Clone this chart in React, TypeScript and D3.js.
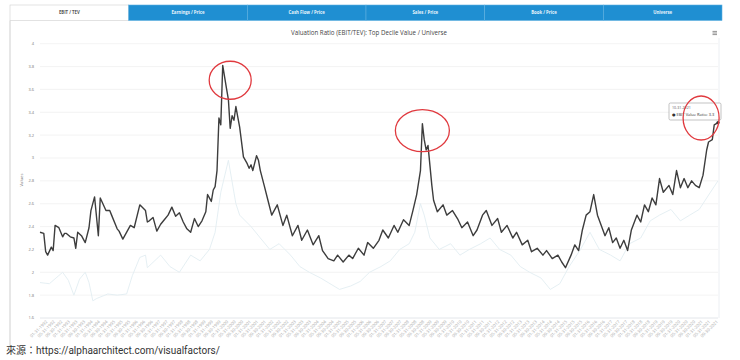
import React from "react";
import * as d3 from "d3";

// ---- data ----
const tabs = ["EBIT / TEV", "Earnings / Price", "Cash Flow / Price", "Sales / Price", "Book / Price", "Universe"];
const title = "Valuation Ratio (EBIT/TEV): Top Decile Value / Universe";
const yTickValues = [1.6, 1.8, 2, 2.2, 2.4, 2.6, 2.8, 3, 3.2, 3.4, 3.6, 3.8, 4];
const startMonth = "1991-10";
const endMonth = "2021-10";

const topDecile: [string, number][] = [
  ["1991-10", 2.35], ["1991-12", 2.34], ["1992-01", 2.18], ["1992-02", 2.15], ["1992-04", 2.22],
  ["1992-05", 2.19], ["1992-06", 2.41], ["1992-08", 2.39], ["1992-10", 2.31], ["1992-11", 2.34],
  ["1992-12", 2.34], ["1993-02", 2.31], ["1993-04", 2.30], ["1993-05", 2.21], ["1993-06", 2.35],
  ["1993-08", 2.32], ["1993-10", 2.26], ["1993-12", 2.39], ["1994-01", 2.54], ["1994-03", 2.66],
  ["1994-05", 2.32], ["1994-06", 2.65], ["1994-09", 2.54], ["1994-11", 2.54], ["1994-12", 2.50],
  ["1995-03", 2.38], ["1995-04", 2.36], ["1995-06", 2.29], ["1995-10", 2.41], ["1995-12", 2.39],
  ["1996-03", 2.59], ["1996-06", 2.54], ["1996-07", 2.44], ["1996-08", 2.45], ["1996-10", 2.48],
  ["1996-12", 2.36], ["1997-02", 2.42], ["1997-04", 2.46], ["1997-06", 2.50], ["1997-08", 2.57],
  ["1997-10", 2.49], ["1997-12", 2.52], ["1998-02", 2.44], ["1998-04", 2.38], ["1998-06", 2.35],
  ["1998-08", 2.47], ["1998-10", 2.40], ["1998-12", 2.45], ["1999-02", 2.53], ["1999-03", 2.68],
  ["1999-05", 2.62], ["1999-06", 2.72], ["1999-07", 2.75], ["1999-08", 2.89], ["1999-09", 3.35],
  ["1999-10", 3.29], ["1999-11", 3.81], ["2000-01", 3.61], ["2000-02", 3.51], ["2000-03", 3.26],
  ["2000-04", 3.37], ["2000-05", 3.33], ["2000-06", 3.45], ["2000-07", 3.36], ["2000-08", 3.27],
  ["2000-10", 3.01], ["2000-12", 2.95], ["2001-01", 2.91], ["2001-02", 2.94], ["2001-03", 2.89],
  ["2001-05", 3.02], ["2001-06", 2.98], ["2001-07", 2.89], ["2001-09", 2.76], ["2001-11", 2.63],
  ["2002-01", 2.50], ["2002-04", 2.59], ["2002-07", 2.41], ["2002-09", 2.50], ["2002-12", 2.32],
  ["2003-03", 2.41], ["2003-05", 2.28], ["2003-08", 2.37], ["2003-11", 2.24], ["2004-02", 2.32],
  ["2004-04", 2.19], ["2004-07", 2.12], ["2004-10", 2.10], ["2004-12", 2.15], ["2005-03", 2.09],
  ["2005-06", 2.15], ["2005-08", 2.12], ["2005-11", 2.21], ["2006-02", 2.15], ["2006-04", 2.26],
  ["2006-07", 2.21], ["2006-10", 2.28], ["2006-12", 2.37], ["2007-03", 2.30], ["2007-06", 2.41],
  ["2007-08", 2.35], ["2007-11", 2.46], ["2008-02", 2.41], ["2008-04", 2.54], ["2008-06", 2.68],
  ["2008-08", 2.89], ["2008-09", 3.30], ["2008-10", 3.16], ["2008-11", 3.07], ["2008-12", 3.11],
  ["2009-02", 2.76], ["2009-03", 2.63], ["2009-05", 2.53], ["2009-08", 2.59], ["2009-10", 2.50],
  ["2010-01", 2.54], ["2010-04", 2.46], ["2010-06", 2.39], ["2010-09", 2.44], ["2010-12", 2.32],
  ["2011-02", 2.37], ["2011-05", 2.50], ["2011-07", 2.54], ["2011-10", 2.41], ["2012-01", 2.47],
  ["2012-03", 2.35], ["2012-06", 2.41], ["2012-09", 2.30], ["2012-11", 2.35], ["2013-02", 2.24],
  ["2013-05", 2.28], ["2013-07", 2.18], ["2013-10", 2.21], ["2014-01", 2.15], ["2014-03", 2.19],
  ["2014-06", 2.12], ["2014-09", 2.15], ["2014-11", 2.09], ["2015-01", 2.04], ["2015-04", 2.15],
  ["2015-06", 2.24], ["2015-08", 2.19], ["2015-10", 2.37], ["2015-12", 2.50], ["2016-02", 2.53],
  ["2016-04", 2.68], ["2016-06", 2.50], ["2016-08", 2.41], ["2016-10", 2.32], ["2016-12", 2.39],
  ["2017-02", 2.26], ["2017-04", 2.30], ["2017-06", 2.21], ["2017-08", 2.28], ["2017-10", 2.19],
  ["2017-12", 2.37], ["2018-03", 2.50], ["2018-05", 2.44], ["2018-07", 2.59], ["2018-09", 2.53],
  ["2018-11", 2.65], ["2019-01", 2.59], ["2019-03", 2.82], ["2019-05", 2.70], ["2019-08", 2.76],
  ["2019-10", 2.68], ["2019-12", 2.89], ["2020-02", 2.74], ["2020-04", 2.82], ["2020-06", 2.74],
  ["2020-08", 2.80], ["2020-10", 2.76], ["2020-12", 2.74], ["2021-02", 2.85], ["2021-04", 3.07],
  ["2021-05", 3.14], ["2021-07", 3.16], ["2021-08", 3.29], ["2021-10", 3.31],
];

const universe: [string, number][] = [
  ["1991-10", 1.91], ["1992-03", 1.90], ["1992-10", 2.00], ["1993-01", 1.93], ["1993-04", 1.80],
  ["1993-07", 1.94], ["1993-10", 2.00], ["1993-12", 1.91], ["1994-02", 1.75], ["1994-04", 1.77],
  ["1994-10", 1.81], ["1995-03", 1.80], ["1995-08", 1.81], ["1995-11", 1.97], ["1996-03", 2.13],
  ["1996-06", 2.15], ["1996-07", 2.04], ["1997-02", 2.15], ["1997-07", 2.05], ["1997-12", 2.00],
  ["1998-06", 2.15], ["1998-11", 2.10], ["1999-04", 2.20], ["1999-07", 2.35], ["1999-10", 2.70],
  ["2000-02", 2.98], ["2000-06", 2.60], ["2000-08", 2.50], ["2001-02", 2.40], ["2001-07", 2.30],
  ["2001-12", 2.20], ["2002-05", 2.25], ["2002-11", 2.15], ["2003-04", 2.05], ["2003-09", 2.00],
  ["2004-03", 1.95], ["2004-08", 1.90], ["2005-01", 1.85], ["2005-07", 1.88], ["2005-12", 1.92],
  ["2006-05", 2.00], ["2006-11", 2.05], ["2007-04", 2.10], ["2007-09", 2.20], ["2008-02", 2.25],
  ["2008-05", 2.35], ["2008-08", 2.60], ["2008-10", 2.50], ["2009-01", 2.30], ["2009-06", 2.20],
  ["2009-12", 2.25], ["2010-05", 2.15], ["2010-10", 2.20], ["2011-04", 2.25], ["2011-09", 2.30],
  ["2012-02", 2.20], ["2012-08", 2.15], ["2013-01", 2.05], ["2013-06", 2.00], ["2013-12", 1.95],
  ["2014-05", 1.85], ["2014-10", 1.90], ["2015-03", 2.05], ["2015-09", 2.20], ["2016-02", 2.35],
  ["2016-07", 2.20], ["2017-01", 2.15], ["2017-06", 2.10], ["2017-11", 2.25], ["2018-05", 2.30],
  ["2018-10", 2.45], ["2019-03", 2.50], ["2019-09", 2.55], ["2020-02", 2.45], ["2020-07", 2.50],
  ["2020-12", 2.55], ["2021-06", 2.70], ["2021-10", 2.80],
];

const tooltipDate = "10-31-2021";
const tooltipLabel = "EBIT Value Ratio: 3.3";
const sourceText = "來源：https://alphaarchitect.com/visualfactors/";

// highlighted peaks (dates + values) for the red annotation circles
const highlights: [string, number][] = [["2000-03", 3.68], ["2008-09", 3.24], ["2021-01", 3.35]];

export default function App() {
  const W = 740, H = 360;
  const parse = d3.timeParse("%Y-%m");
  const x = d3.scaleTime().domain([parse(startMonth)!, parse(endMonth)!]).range([40, 718]);
  const y = d3.scaleLinear().domain([1.6, 4]).range([318, 43.7]);
  const line = d3.line<[string, number]>().x((d) => x(parse(d[0])!)).y((d) => y(d[1]));
  const tabScale = d3.scaleBand<string>().domain(tabs).range([10, 722]);
  const xTicks = x.ticks(d3.timeMonth.every(4)!);
  const fmt = d3.timeFormat("%m-%d-%Y");
  const monthEnd = (d: Date) => d3.timeDay.offset(d3.timeMonth.offset(d, 1), -1);
  const last = topDecile[topDecile.length - 1];
  const font = "'Open Sans', 'DejaVu Sans', sans-serif";
  const ellipseR: [number, number][] = [[21, 19], [27, 21], [18, 22]];

  return (
    <svg width={W} height={H} style={{ position: "absolute", left: 0, top: 0, background: "#fff" }} fontFamily={font}>
      <rect x={0} y={0} width={W} height={H} fill="#fff" />
      {/* tabs */}
      {tabs.map((t, i) => {
        const x0 = tabScale(t)!;
        const w = tabScale.bandwidth();
        const active = i === 0;
        return (
          <g key={t}>
            <rect x={x0} y={5} width={w} height={15.5} fill={active ? "#fff" : "#1f8fd2"}
              stroke={active ? "#cfcfcf" : "#5fb0e0"} strokeWidth={0.6} />
            <text x={x0 + w / 2} y={14.3} textAnchor="middle" fontSize={4.3} fontWeight="bold"
              fill={active ? "#555" : "#e8f4fb"}>{t}</text>
          </g>
        );
      })}
      {/* frame */}
      <line x1={10} x2={10} y1={20.5} y2={346} stroke="#cfcfcf" strokeWidth={1} />
      <line x1={719} x2={719} y1={38} y2={318} stroke="#eceff3" strokeWidth={1} />
      {/* title */}
      <text x={369} y={35} textAnchor="middle" fontSize={6.2} fill="#444">{title}</text>
      {/* menu icon */}
      {[31.4, 33, 34.6].map((yy) => (
        <line key={yy} x1={712.5} x2={717} y1={yy} y2={yy} stroke="#777" strokeWidth={0.8} />
      ))}
      {/* grid and y axis */}
      {yTickValues.map((v) => (
        <g key={v}>
          <line x1={40} x2={718} y1={y(v)} y2={y(v)} stroke={v === 1.6 ? "#e3e6ea" : "#f0f0f0"} strokeWidth={v === 1.6 ? 1 : 0.8} />
          <text x={34} y={y(v) + 1.4} textAnchor="end" fontSize={4} fill="#777">{String(v)}</text>
        </g>
      ))}
      <text transform={`translate(23,180) rotate(-90)`} textAnchor="middle" fontSize={4.2} fill="#777">Values</text>
      {/* x axis labels */}
      {xTicks.map((d) => (
        <text key={+d} transform={`translate(${x(d) + 2},${322}) rotate(-45)`} textAnchor="end" fontSize={4.3} fill="#aaa">
          {fmt(monthEnd(d))}
        </text>
      ))}
      {/* series */}
      <path d={line(universe) ?? ""} fill="none" stroke="#e2edf2" strokeWidth={0.9} />
      <path d={line(topDecile) ?? ""} fill="none" stroke="#3d3d3d" strokeWidth={1.4} strokeLinejoin="round" />
      <circle cx={x(parse(last[0])!)} cy={y(last[1])} r={1.6} fill="#333" />
      {/* tooltip */}
      <g>
        <rect x={669} y={103} width={52} height={17} rx={1.5} fill="#fff" fillOpacity={0.9} stroke="#9a9a9a" strokeWidth={0.6} />
        <text x={672} y={108.8} fontSize={3.6} fill="#555">{tooltipDate}</text>
        <text x={672} y={115.8} fontSize={4} fill="#333">
          <tspan fill="#333">● </tspan>{tooltipLabel}
        </text>
      </g>
      {/* red annotation circles */}
      {highlights.map((h, i) => (
        <ellipse key={h[0]} cx={x(parse(h[0])!)} cy={y(h[1])} rx={ellipseR[i][0]} ry={ellipseR[i][1]}
          fill="none" stroke="#e0393e" strokeWidth={1.3} />
      ))}
      {/* source */}
      <text x={6} y={354} fontSize={10} fill="#333" fontFamily="Roboto, 'Noto Sans CJK TC', sans-serif">{sourceText}</text>
    </svg>
  );
}
